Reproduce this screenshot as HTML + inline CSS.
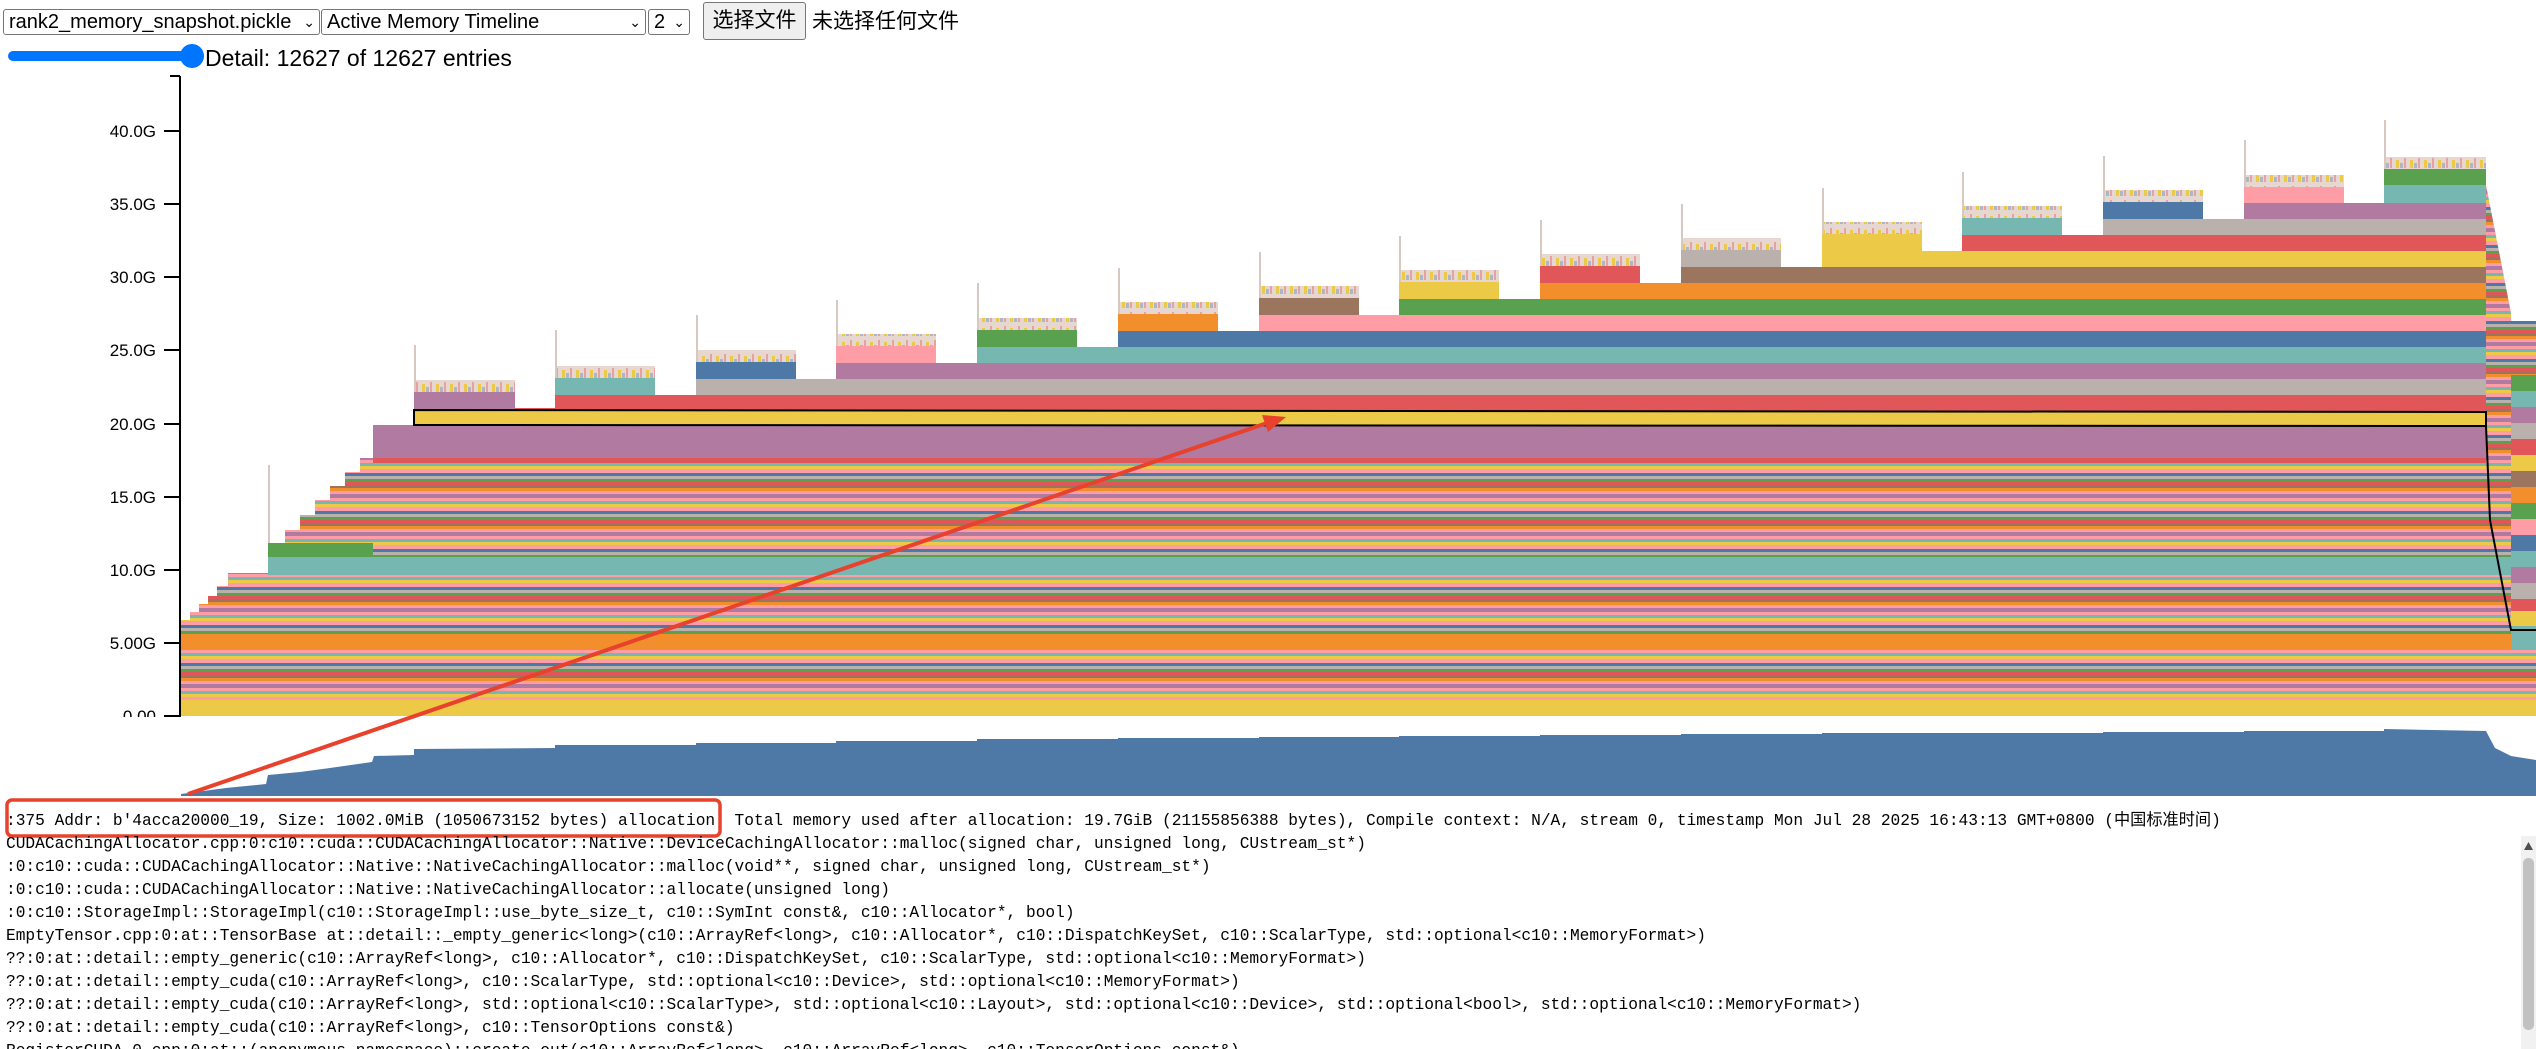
<!DOCTYPE html>
<html><head><meta charset="utf-8"><style>
html,body{margin:0;padding:0;background:#fff;width:2536px;height:1049px;overflow:hidden;position:relative;font-family:"Liberation Sans","Noto Sans CJK SC",sans-serif}
.sel{position:absolute;top:9px;height:26px;border:1px solid #767676;border-radius:3px;font-size:20px;line-height:24px;padding-left:5px;box-sizing:border-box;background:#fff;color:#000}
.sel span.c{position:absolute;right:4px;top:0;font-size:14px}
#btn{position:absolute;left:703px;top:2px;width:103px;height:38px;border:1px solid #767676;border-radius:3px;background:#efefef;font-size:21px;line-height:36px;text-align:center;box-sizing:border-box}
#nf{position:absolute;left:812px;top:8px;font-size:21px;line-height:28px}
#det{position:absolute;left:205px;top:44px;font-size:23px;line-height:28px}
#txt{position:absolute;left:6px;top:810px;font-family:"Liberation Mono","Noto Sans CJK SC",monospace;font-size:16.2px;line-height:23px;white-space:pre;color:#000}
</style></head><body>
<div class="sel" style="left:3px;width:317px">rank2_memory_snapshot.pickle<span class="c">&#8964;</span></div>
<div class="sel" style="left:321px;width:325px">Active Memory Timeline<span class="c">&#8964;</span></div>
<div class="sel" style="left:648px;width:42px">2<span class="c">&#8964;</span></div>
<div id="btn">选择文件</div>
<div id="nf">未选择任何文件</div>
<div style="position:absolute;left:8px;top:51px;width:185px;height:10px;border-radius:5px;background:#0075ff"></div>
<div style="position:absolute;left:180px;top:44px;width:24px;height:24px;border-radius:12px;background:#0075ff"></div>
<div id="det">Detail: 12627 of 12627 entries</div>

<svg style="position:absolute;left:0;top:0" width="2536" height="1049" viewBox="0 0 2536 1049">
<defs>
<pattern id="st" width="10" height="38" patternUnits="userSpaceOnUse">
<rect y="0" width="10" height="4" fill="#b07aa1"/><rect y="4" width="10" height="3" fill="#ff9da7"/><rect y="7" width="10" height="3" fill="#76b7b2"/><rect y="10" width="10" height="3" fill="#edc948"/><rect y="13" width="10" height="4" fill="#ff9da7"/><rect y="17" width="10" height="3" fill="#4e79a7"/><rect y="20" width="10" height="3" fill="#bab0ac"/><rect y="23" width="10" height="3" fill="#59a14f"/><rect y="26" width="10" height="3" fill="#e15759"/><rect y="29" width="10" height="3" fill="#9c755f"/><rect y="32" width="10" height="3" fill="#f28e2b"/><rect y="35" width="10" height="3" fill="#ff9da7"/>
</pattern>
<pattern id="fr" width="14" height="14" patternUnits="userSpaceOnUse">
<rect width="14" height="14" fill="#e6d8d0"/><rect x="2" y="6" width="3" height="8" fill="#edc948"/><rect x="6" y="9" width="3" height="5" fill="#a8b8c8"/><rect x="10" y="4" width="2" height="10" fill="#e8a0a0"/>
</pattern>
<clipPath id="cp"><polygon points="181,716 181,620 190,620 190,612 199,612 199,604 208,604 208,596 217,596 217,586 228,586 228,573 268,573 268,543 285,543 285,530 300,530 300,515 315,515 315,500 330,500 330,486 345,486 345,472 360,472 360,458 373,458 373,425 414,425 414,408 555,408 555,395 696,395 696,379 836,379 836,363 977,363 977,347 1118,347 1118,331 1259,331 1259,315 1399,315 1399,299 1540,299 1540,283 1681,283 1681,267 1822,267 1822,251 1962,251 1962,235 2103,235 2103,219 2244,219 2244,203 2384,203 2384,185 2486,185 2511,313 2511,321 2536,321 2536,716"/></clipPath>
</defs>
<g clip-path="url(#cp)">
<rect x="181" y="150" width="2355" height="570" fill="url(#st)"/>
<rect x="181" y="634" width="2330" height="16" fill="#f28e2b"/>
<rect x="181" y="700" width="2355" height="16" fill="#edc948"/>
<rect x="268" y="557" width="2243" height="18" fill="#76b7b2"/>
<rect x="268" y="543" width="105" height="14" fill="#59a14f"/>
<rect x="373" y="425" width="2113" height="33" fill="#b07aa1"/>
<rect x="373" y="458" width="2113" height="5" fill="#e15759"/>
<rect x="555" y="395" width="1931" height="16" fill="#e15759"/>
<rect x="696" y="379" width="1790" height="16" fill="#bab0ac"/>
<rect x="836" y="363" width="1650" height="16" fill="#b07aa1"/>
<rect x="977" y="347" width="1509" height="16" fill="#76b7b2"/>
<rect x="1118" y="331" width="1368" height="16" fill="#4e79a7"/>
<rect x="1259" y="315" width="1227" height="16" fill="#ff9da7"/>
<rect x="1399" y="299" width="1087" height="16" fill="#59a14f"/>
<rect x="1540" y="283" width="946" height="16" fill="#f28e2b"/>
<rect x="1681" y="267" width="805" height="16" fill="#9c755f"/>
<rect x="1822" y="251" width="664" height="16" fill="#edc948"/>
<rect x="1962" y="235" width="524" height="16" fill="#e15759"/>
<rect x="2103" y="219" width="383" height="16" fill="#bab0ac"/>
<rect x="2244" y="203" width="242" height="16" fill="#b07aa1"/>
<rect x="2384" y="185" width="102" height="18" fill="#76b7b2"/>
<rect x="2511" y="321" width="25" height="290" fill="url(#st)"/>
<rect x="2511" y="375" width="25" height="16" fill="#59a14f"/><rect x="2511" y="391" width="25" height="16" fill="#76b7b2"/><rect x="2511" y="407" width="25" height="16" fill="#b07aa1"/><rect x="2511" y="423" width="25" height="16" fill="#bab0ac"/><rect x="2511" y="439" width="25" height="16" fill="#e15759"/><rect x="2511" y="455" width="25" height="16" fill="#edc948"/><rect x="2511" y="471" width="25" height="16" fill="#9c755f"/><rect x="2511" y="487" width="25" height="16" fill="#f28e2b"/><rect x="2511" y="503" width="25" height="16" fill="#59a14f"/><rect x="2511" y="519" width="25" height="16" fill="#ff9da7"/><rect x="2511" y="535" width="25" height="16" fill="#4e79a7"/><rect x="2511" y="551" width="25" height="16" fill="#76b7b2"/><rect x="2511" y="567" width="25" height="16" fill="#b07aa1"/><rect x="2511" y="583" width="25" height="16" fill="#bab0ac"/><rect x="2511" y="599" width="25" height="12" fill="#e15759"/><rect x="2511" y="611" width="25" height="15" fill="#edc948"/><rect x="2511" y="626" width="25" height="24" fill="#76b7b2"/>
</g>
<polygon points="414,410 2486,412 2486,426 414,425" fill="#edc948" stroke="#000" stroke-width="2"/>
<polyline points="2486,426 2490,520 2511,630 2536,630" fill="none" stroke="#000" stroke-width="2"/>
<g>
<rect x="414" y="392" width="101" height="17" fill="#b07aa1"/><rect x="414" y="380" width="101" height="12" fill="url(#fr)"/>
<rect x="555" y="378" width="100" height="17" fill="#76b7b2"/><rect x="555" y="366" width="100" height="12" fill="url(#fr)"/>
<rect x="696" y="362" width="100" height="17" fill="#4e79a7"/><rect x="696" y="350" width="100" height="12" fill="url(#fr)"/>
<rect x="836" y="346" width="100" height="17" fill="#ff9da7"/><rect x="836" y="334" width="100" height="12" fill="url(#fr)"/>
<rect x="977" y="330" width="100" height="17" fill="#59a14f"/><rect x="977" y="318" width="100" height="12" fill="url(#fr)"/>
<rect x="1118" y="314" width="100" height="17" fill="#f28e2b"/><rect x="1118" y="302" width="100" height="12" fill="url(#fr)"/>
<rect x="1259" y="298" width="100" height="17" fill="#9c755f"/><rect x="1259" y="286" width="100" height="12" fill="url(#fr)"/>
<rect x="1399" y="282" width="100" height="17" fill="#edc948"/><rect x="1399" y="270" width="100" height="12" fill="url(#fr)"/>
<rect x="1540" y="266" width="100" height="17" fill="#e15759"/><rect x="1540" y="254" width="100" height="12" fill="url(#fr)"/>
<rect x="1681" y="250" width="100" height="17" fill="#bab0ac"/><rect x="1681" y="238" width="100" height="12" fill="url(#fr)"/>
<rect x="1822" y="234" width="100" height="17" fill="#edc948"/><rect x="1822" y="222" width="100" height="12" fill="url(#fr)"/>
<rect x="1962" y="218" width="100" height="17" fill="#76b7b2"/><rect x="1962" y="206" width="100" height="12" fill="url(#fr)"/>
<rect x="2103" y="202" width="100" height="17" fill="#4e79a7"/><rect x="2103" y="190" width="100" height="12" fill="url(#fr)"/>
<rect x="2244" y="187" width="100" height="16" fill="#ff9da7"/><rect x="2244" y="175" width="100" height="12" fill="url(#fr)"/>
<rect x="2384" y="169" width="102" height="16" fill="#59a14f"/><rect x="2384" y="157" width="102" height="12" fill="url(#fr)"/>
</g>
<g stroke="#d8c8c0" stroke-width="2">
<line x1="415" y1="345" x2="415" y2="392"/><line x1="556" y1="330" x2="556" y2="378"/><line x1="697" y1="315" x2="697" y2="362"/><line x1="837" y1="300" x2="837" y2="346"/><line x1="978" y1="283" x2="978" y2="330"/><line x1="1119" y1="268" x2="1119" y2="314"/><line x1="1260" y1="252" x2="1260" y2="298"/><line x1="1400" y1="236" x2="1400" y2="282"/><line x1="1541" y1="220" x2="1541" y2="266"/><line x1="1682" y1="204" x2="1682" y2="250"/><line x1="1823" y1="188" x2="1823" y2="234"/><line x1="1963" y1="172" x2="1963" y2="218"/><line x1="2104" y1="156" x2="2104" y2="202"/><line x1="2245" y1="140" x2="2245" y2="187"/><line x1="2385" y1="120" x2="2385" y2="169"/><line x1="269" y1="465" x2="269" y2="543"/>
</g>
<g font-family="'Liberation Sans',sans-serif" font-size="17" fill="#000" text-anchor="end">
<line x1="180" y1="76" x2="180" y2="717" stroke="#000" stroke-width="2"/>
<line x1="170" y1="76" x2="180" y2="76" stroke="#000" stroke-width="2"/>
<g stroke="#000" stroke-width="2">
<line x1="164" y1="131" x2="180" y2="131"/><line x1="164" y1="204" x2="180" y2="204"/><line x1="164" y1="277" x2="180" y2="277"/><line x1="164" y1="350" x2="180" y2="350"/><line x1="164" y1="424" x2="180" y2="424"/><line x1="164" y1="497" x2="180" y2="497"/><line x1="164" y1="570" x2="180" y2="570"/><line x1="164" y1="643" x2="180" y2="643"/><line x1="164" y1="716" x2="180" y2="716"/>
</g>
<text x="156" y="137">40.0G</text><text x="156" y="210">35.0G</text><text x="156" y="283">30.0G</text><text x="156" y="356">25.0G</text><text x="156" y="430">20.0G</text><text x="156" y="503">15.0G</text><text x="156" y="576">10.0G</text><text x="156" y="649">5.00G</text><text x="156" y="722">0.00</text>
</g>
<rect x="0" y="717" width="2536" height="12" fill="#fff"/>
<polygon points="181,796 181,794 226,788 266,784 268,775 300,772 330,768 372,762 374,756 414,755 414,749 555,748 555,745 696,745 696,743 836,743 836,741 977,741 977,739 1118,739 1118,738 1259,738 1259,737 1399,737 1399,736 1540,736 1540,735 1681,735 1681,734 1822,734 1822,733 1962,733 1962,733 2103,733 2103,732 2244,732 2244,731 2384,731 2384,729 2486,731 2495,748 2511,756 2536,760 2536,796" fill="#4e79a7"/>
<rect x="7" y="800" width="713" height="36" rx="5" fill="none" stroke="#e8412c" stroke-width="3.5"/>
<line x1="188" y1="794" x2="1270" y2="422" stroke="#e8412c" stroke-width="4"/>
<polygon points="1286,417 1262,415 1268,432" fill="#e8412c"/>
<rect x="2521" y="836" width="15" height="213" fill="#f1f1f1"/>
<rect x="2523" y="858" width="11" height="172" rx="5" fill="#c1c1c1"/>
<polygon points="2528.5,842 2524,850 2533,850" fill="#505050"/>
</svg>

<div id="txt">:375 Addr: b'4acca20000_19, Size: 1002.0MiB (1050673152 bytes) allocation  Total memory used after allocation: 19.7GiB (21155856388 bytes), Compile context: N/A, stream 0, timestamp Mon Jul 28 2025 16:43:13 GMT+0800 (中国标准时间)
CUDACachingAllocator.cpp:0:c10::cuda::CUDACachingAllocator::Native::DeviceCachingAllocator::malloc(signed char, unsigned long, CUstream_st*)
:0:c10::cuda::CUDACachingAllocator::Native::NativeCachingAllocator::malloc(void**, signed char, unsigned long, CUstream_st*)
:0:c10::cuda::CUDACachingAllocator::Native::NativeCachingAllocator::allocate(unsigned long)
:0:c10::StorageImpl::StorageImpl(c10::StorageImpl::use_byte_size_t, c10::SymInt const&amp;, c10::Allocator*, bool)
EmptyTensor.cpp:0:at::TensorBase at::detail::_empty_generic&lt;long&gt;(c10::ArrayRef&lt;long&gt;, c10::Allocator*, c10::DispatchKeySet, c10::ScalarType, std::optional&lt;c10::MemoryFormat&gt;)
??:0:at::detail::empty_generic(c10::ArrayRef&lt;long&gt;, c10::Allocator*, c10::DispatchKeySet, c10::ScalarType, std::optional&lt;c10::MemoryFormat&gt;)
??:0:at::detail::empty_cuda(c10::ArrayRef&lt;long&gt;, c10::ScalarType, std::optional&lt;c10::Device&gt;, std::optional&lt;c10::MemoryFormat&gt;)
??:0:at::detail::empty_cuda(c10::ArrayRef&lt;long&gt;, std::optional&lt;c10::ScalarType&gt;, std::optional&lt;c10::Layout&gt;, std::optional&lt;c10::Device&gt;, std::optional&lt;bool&gt;, std::optional&lt;c10::MemoryFormat&gt;)
??:0:at::detail::empty_cuda(c10::ArrayRef&lt;long&gt;, c10::TensorOptions const&amp;)
RegisterCUDA_0.cpp:0:at::(anonymous namespace)::create_out(c10::ArrayRef&lt;long&gt;, c10::ArrayRef&lt;long&gt;, c10::TensorOptions const&amp;)</div>
</body></html>
